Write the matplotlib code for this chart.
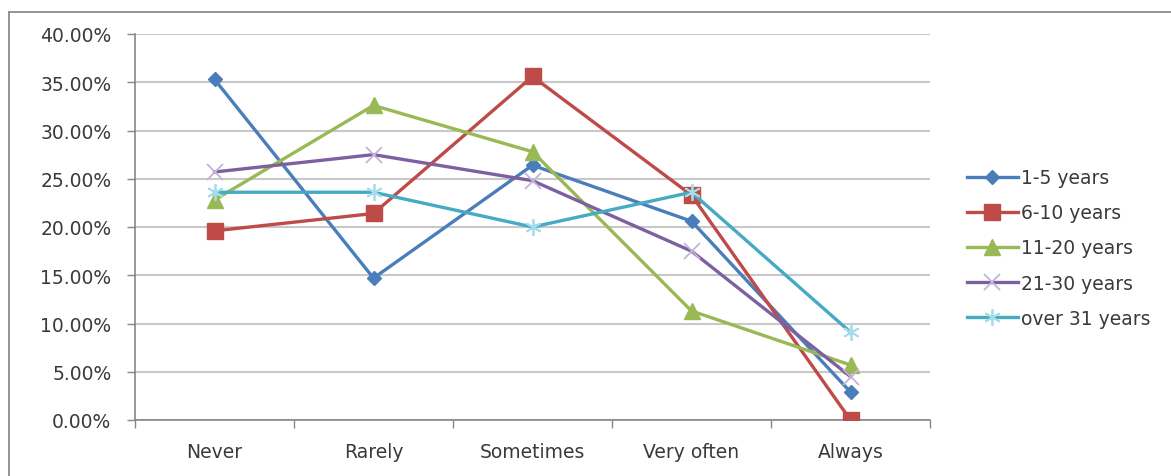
import matplotlib
matplotlib.use("Agg")
import matplotlib.pyplot as plt
from matplotlib.lines import Line2D
from matplotlib.ticker import FuncFormatter, FixedLocator

categories = ["Never", "Rarely", "Sometimes", "Very often", "Always"]
series_names = ["1-5 years", "6-10 years", "11-20 years", "21-30 years", "over 31 years"]
yrs_1_5 = [35.3, 14.7, 26.4, 20.6, 2.9]
yrs_6_10 = [19.6, 21.4, 35.6, 23.3, 0.0]
yrs_11_20 = [22.8, 32.6, 27.8, 11.3, 5.7]
yrs_21_30 = [25.7, 27.5, 24.8, 17.5, 4.5]
yrs_over_31 = [23.6, 23.6, 20.0, 23.6, 9.1]
y_ticks = [0, 5, 10, 15, 20, 25, 30, 35, 40]

series_values = [yrs_1_5, yrs_6_10, yrs_11_20, yrs_21_30, yrs_over_31]
styles = [
    dict(color="#4A7EBB", marker="D", markersize=7.5, mfc="#4A7EBB", mec="#4A7EBB"),
    dict(color="#BE4B48", marker="s", markersize=11, mfc="#BE4B48", mec="#BE4B48"),
    dict(color="#98B954", marker="^", markersize=11, mfc="#98B954", mec="#98B954"),
    dict(color="#7D60A0", marker="x", markersize=11, mfc="none", mec="#C3B4D8", mew=1.3),
    dict(color="#46AAC5", marker=(6, 2, 0), markersize=12, mfc="none", mec="#A6DCEA", mew=1.3),
]

FS = 13.5
TXT = "#3A3A3A"

fig = plt.figure(figsize=(11.71, 4.77), dpi=100)
plt.rcParams["font.family"] = ["DejaVu Sans"]

# outer chart frame (top and left edges)
fig.add_artist(Line2D([9 / 1171, 1.0], [1 - 13 / 477, 1 - 13 / 477],
                      transform=fig.transFigure, color="#8C8C8C", lw=1.3))
fig.add_artist(Line2D([9 / 1171, 9 / 1171], [0.0, 1 - 13 / 477],
                      transform=fig.transFigure, color="#8C8C8C", lw=1.3))

ax = fig.add_axes([135 / 1171, 1 - 421 / 477, (930 - 135) / 1171, (421 - 35) / 477])

x = list(range(len(categories)))
for name, vals, st in zip(series_names, series_values, styles):
    ax.plot(x, vals, label=name, lw=2.4, zorder=3, **st)

ax.set_xlim(-0.5, len(categories) - 0.5)
ax.set_ylim(0, 40)
ax.set_yticks(y_ticks)
ax.yaxis.set_major_formatter(FuncFormatter(lambda v, p: f"{v:.2f}%"))
ax.grid(axis="y", color="#C8C8C8", lw=1.5, zorder=0)
ax.set_axisbelow(True)

ax.set_xticks(x)
ax.set_xticklabels(categories)
ax.xaxis.set_minor_locator(FixedLocator([i + 0.5 for i in range(-1, len(categories))]))
ax.tick_params(axis="x", which="major", length=0, pad=16, labelsize=FS, labelcolor=TXT)
ax.tick_params(axis="x", which="minor", length=6, color="#868686", width=1)
ax.tick_params(axis="y", length=6, color="#868686", width=1, pad=11, labelsize=FS,
               labelcolor=TXT)

for side in ("top", "right"):
    ax.spines[side].set_visible(False)
for side in ("left", "bottom"):
    ax.spines[side].set_color("#868686")
    ax.spines[side].set_linewidth(1.2)

leg = ax.legend(loc="center left", bbox_to_anchor=(967 / 1171, 1 - 249 / 477),
                bbox_transform=fig.transFigure, frameon=False, fontsize=FS,
                handlelength=2.7, handletextpad=0.2, labelspacing=0.86, borderaxespad=0,
                borderpad=0)
for t in leg.get_texts():
    t.set_color(TXT)

fig.savefig("out.png", dpi=100)
